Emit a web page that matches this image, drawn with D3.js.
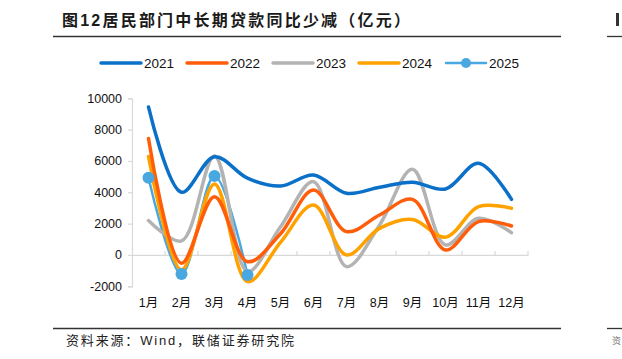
<!DOCTYPE html>
<html><head><meta charset="utf-8">
<script src="https://cdn.jsdelivr.net/npm/d3@7/dist/d3.min.js"></script>
<style>body{margin:0;background:#fff}svg{display:block}</style>
</head><body>
<script>
const months = ["1月","2月","3月","4月","5月","6月","7月","8月","9月","10月","11月","12月"];
const s2021 = [9450,4000,6270,4900,4400,5100,3940,4320,4640,4210,5850,3550];
const s2022 = [7440,-530,3720,-430,1350,4150,1490,2550,3550,320,2130,1850];
const s2023 = [2200,900,6320,-1060,1800,4680,-745,1900,5470,640,2340,1420];
const s2024 = [6280,-960,4530,-1700,800,3190,0,1700,2270,1130,3080,2980];
const s2025 = [4930,-1210,5040,-1280];
const yTicks = [-2000,0,2000,4000,6000,8000,10000];
const seriesNames = ["2021","2022","2023","2024","2025"];
const colors = ["#0a70c8","#ff5d0a","#b3b3b3","#ffa200","#4aa8e0"];
const title = "图12居民部门中长期贷款同比少减（亿元）";
const source = "资料来源：Wind，联储证券研究院";

const W=622,H=359;
const svg=d3.select("body").append("svg").attr("width",W).attr("height",H);
const font="'Liberation Sans', Arial, 'Noto Sans CJK SC', sans-serif";

// title
svg.append("text").attr("x",62).attr("y",26).attr("font-family",font).attr("font-size",16)
  .attr("font-weight","bold").attr("fill","#1a1a1a")
  .attr("textLength",348).attr("lengthAdjust","spacing").text(title);
svg.append("line").attr("x1",53).attr("x2",561).attr("y1",36.5).attr("y2",36.5).attr("stroke","#333").attr("stroke-width",1.3);
svg.append("line").attr("x1",607).attr("x2",622).attr("y1",36.5).attr("y2",36.5).attr("stroke","#333").attr("stroke-width",1.3);
svg.append("rect").attr("x",616).attr("y",13).attr("width",3).attr("height",13).attr("fill","#333");
// source
svg.append("line").attr("x1",53).attr("x2",561).attr("y1",328.5).attr("y2",328.5).attr("stroke","#333").attr("stroke-width",1.3);
svg.append("line").attr("x1",607).attr("x2",622).attr("y1",328.5).attr("y2",328.5).attr("stroke","#333").attr("stroke-width",1.3);
svg.append("text").attr("x",66).attr("y",345).attr("font-family",font).attr("font-size",13)
  .attr("fill","#222").attr("textLength",228).attr("lengthAdjust","spacing").text(source);
svg.append("text").attr("x",612).attr("y",344).attr("font-family",font).attr("font-size",9)
  .attr("fill","#777").text("资");

const x=d3.scaleBand().domain(months).range([132,528]);
const y=d3.scaleLinear().domain([-2000,10000]).range([286.3,98.3]);

// y axis
const ya=svg.append("g").attr("transform","translate(132,0)")
  .call(d3.axisLeft(y).tickValues(yTicks).tickSize(4).tickPadding(6).tickFormat(d=>d));
ya.select(".domain").attr("stroke","#d9d9d9").attr("stroke-width",1.2);
ya.selectAll(".tick line").attr("stroke","#d9d9d9").attr("stroke-width",1.2);
ya.selectAll("text").attr("font-family",font).attr("font-size",12.5).attr("fill","#111");

// x axis at 0
const xa=svg.append("g").attr("transform",`translate(0,${y(0)})`)
  .call(d3.axisBottom(x).tickSize(0).tickFormat(""));
xa.select(".domain").attr("stroke","#d9d9d9").attr("stroke-width",1.2);
xa.selectAll(".tick").remove();
const bounds=months.map(m=>x(m)).concat([x.range()[1]]);
svg.append("g").selectAll("line").data(bounds.slice(1)).join("line")
  .attr("x1",d=>d).attr("x2",d=>d).attr("y1",y(0)-4).attr("y2",y(0)).attr("stroke","#d9d9d9").attr("stroke-width",1.2);
// x labels
svg.append("g").selectAll("text").data(months).join("text")
  .attr("x",d=>x(d)+x.bandwidth()/2).attr("y",307).attr("text-anchor","middle")
  .attr("font-family",font).attr("font-size",12.5).attr("fill","#111").text(d=>d);

const data=[s2021,s2022,s2023,s2024,s2025];
const line=d3.line().x((d,i)=>x(months[i])+x.bandwidth()/2).y(d=>y(d)).curve(d3.curveCatmullRom.alpha(0.5));
const order=[4,2,3,1,0];
order.forEach(k=>{
  svg.append("path").datum(data[k]).attr("d",line).attr("fill","none")
    .attr("stroke",colors[k]).attr("stroke-width",k===4?2.5:3.5).attr("stroke-linecap","round");
});
svg.append("g").selectAll("circle").data(s2025).join("circle")
  .attr("cx",(d,i)=>x(months[i])+x.bandwidth()/2).attr("cy",d=>y(d)).attr("r",6).attr("fill",colors[4]);

// legend
const lx=[101,187,273,359,446];
seriesNames.forEach((n,k)=>{
  const g=svg.append("g");
  g.append("line").attr("x1",lx[k]).attr("x2",lx[k]+40).attr("y1",63).attr("y2",63)
    .attr("stroke",colors[k]).attr("stroke-width",k===4?2.5:3.5).attr("stroke-linecap","round");
  if(k===4) g.append("circle").attr("cx",lx[k]+20).attr("cy",63).attr("r",5).attr("fill",colors[k]);
  g.append("text").attr("x",lx[k]+43).attr("y",67.5).attr("font-family",font).attr("font-size",13.5)
    .attr("fill","#111").text(n);
});
</script>
</body></html>
